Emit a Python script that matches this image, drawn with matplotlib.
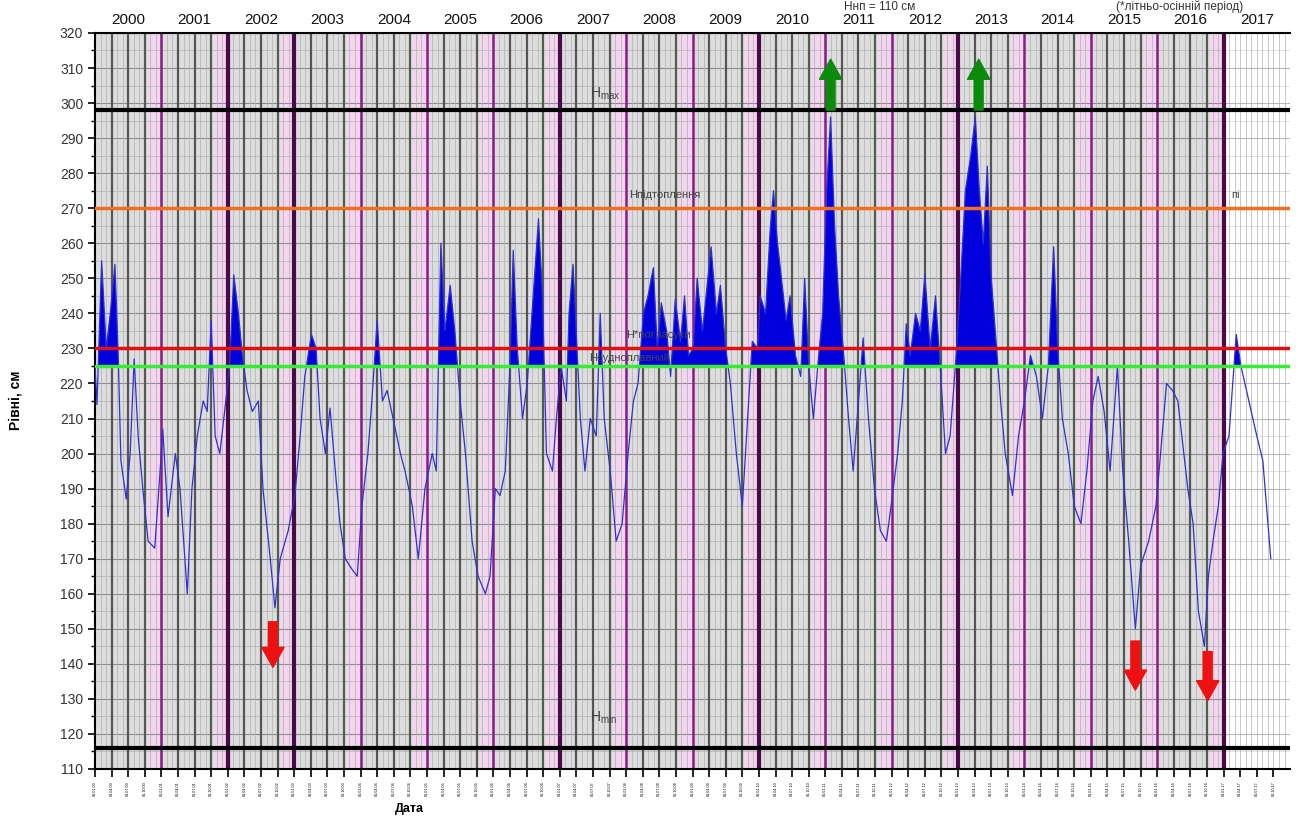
import numpy as np
import matplotlib.pyplot as plt

plt.rcParams['font.family'] = ['Liberation Sans', 'DejaVu Sans']

# water level series (fractional year, level in cm)
t = [2000.00, 2000.03, 2000.10, 2000.17, 2000.23, 2000.30, 2000.35, 2000.39, 2000.47, 2000.53,
     2000.59, 2000.65, 2000.72, 2000.80, 2000.90, 2000.98, 2001.02, 2001.10, 2001.21, 2001.28,
     2001.39, 2001.46, 2001.54, 2001.63, 2001.69, 2001.75, 2001.81, 2001.88, 2001.97, 2002.03,
     2002.09, 2002.16, 2002.22, 2002.29, 2002.37, 2002.46, 2002.53, 2002.64, 2002.71, 2002.79,
     2002.91, 2003.01, 2003.09, 2003.16, 2003.26, 2003.33, 2003.39, 2003.47, 2003.54, 2003.62,
     2003.69, 2003.77, 2003.87, 2003.95, 2004.02, 2004.11, 2004.17, 2004.25, 2004.33, 2004.40,
     2004.49, 2004.60, 2004.67, 2004.78, 2004.87, 2004.97, 2005.08, 2005.14, 2005.21, 2005.27,
     2005.35, 2005.42, 2005.50, 2005.58, 2005.68, 2005.77, 2005.88, 2005.95, 2006.03, 2006.10,
     2006.18, 2006.25, 2006.30, 2006.36, 2006.44, 2006.51, 2006.60, 2006.68, 2006.74, 2006.80,
     2006.89, 2006.95, 2007.02, 2007.10, 2007.14, 2007.20, 2007.26, 2007.31, 2007.38, 2007.46,
     2007.55, 2007.61, 2007.67, 2007.76, 2007.85, 2007.94, 2008.03, 2008.11, 2008.18, 2008.26,
     2008.33, 2008.41, 2008.47, 2008.53, 2008.61, 2008.67, 2008.74, 2008.82, 2008.88, 2008.94,
     2009.01, 2009.07, 2009.15, 2009.22, 2009.28, 2009.36, 2009.42, 2009.50, 2009.57, 2009.66,
     2009.75, 2009.83, 2009.90, 2009.98, 2010.02, 2010.10, 2010.17, 2010.22, 2010.28, 2010.34,
     2010.41, 2010.47, 2010.55, 2010.63, 2010.69, 2010.75, 2010.82, 2010.90, 2010.96, 2011.02,
     2011.08, 2011.14, 2011.20, 2011.27, 2011.35, 2011.42, 2011.50, 2011.57, 2011.65, 2011.74,
     2011.83, 2011.92, 2011.99, 2012.09, 2012.16, 2012.22, 2012.28, 2012.36, 2012.43, 2012.50,
     2012.58, 2012.66, 2012.73, 2012.81, 2012.88, 2012.96, 2013.04, 2013.11, 2013.19, 2013.26,
     2013.32, 2013.38, 2013.44, 2013.50, 2013.56, 2013.64, 2013.71, 2013.82, 2013.91, 2014.00,
     2014.09, 2014.18, 2014.27, 2014.36, 2014.44, 2014.50, 2014.57, 2014.66, 2014.75, 2014.85,
     2014.94, 2015.03, 2015.11, 2015.20, 2015.29, 2015.40, 2015.48, 2015.57, 2015.67, 2015.75,
     2015.87, 2015.98, 2016.05, 2016.14, 2016.23, 2016.31, 2016.40, 2016.46, 2016.54, 2016.62,
     2016.71, 2016.77, 2016.84, 2016.92, 2016.99, 2017.08, 2017.19, 2017.26, 2017.38, 2017.50,
     2017.59, 2017.71]
level = [225, 214, 255, 230, 240, 254, 228, 198, 187, 200,
         227, 205, 190, 175, 173, 195, 207, 182, 200, 190,
         160, 190, 205, 215, 212, 238, 205, 200, 215, 226,
         251, 240, 228, 218, 212, 215, 190, 170, 156, 170,
         178, 188, 205, 222, 234, 230, 210, 200, 213, 195,
         180, 170, 167, 165, 185, 200, 215, 238, 215, 218,
         210, 200, 195, 185, 170, 190, 200, 195, 260, 235,
         248, 235, 215, 200, 175, 165, 160, 165, 190, 188,
         195, 225, 258, 230, 210, 220, 245, 267, 245, 200,
         195, 210, 225, 215, 240, 254, 230, 210, 195, 210,
         205, 240, 210, 195, 175, 180, 200, 215, 220, 240,
         245, 253, 230, 243, 235, 222, 244, 232, 245, 228,
         230, 250, 235, 248, 259, 240, 248, 230, 220, 200,
         185, 210, 232, 230, 245, 240, 264, 275, 260, 250,
         238, 245, 228, 222, 250, 225, 210, 228, 240, 275,
         296, 265, 245, 230, 210, 195, 215, 233, 210, 190,
         178, 175, 185, 200, 215, 237, 228, 240, 235, 251,
         230, 245, 225, 200, 205, 225, 250, 275, 285, 296,
         275, 260, 282, 250, 235, 215, 200, 188, 205, 215,
         228, 222, 210, 225, 259, 230, 210, 200, 185, 180,
         195, 215, 222, 212, 195, 225, 195, 175, 150, 168,
         175, 185, 200, 220, 218, 215, 200, 190, 180, 155,
         145, 165, 175, 185, 200, 205, 234, 225, 215, 205,
         198, 170]

years = list(range(2000, 2018))
thick_years = [2002, 2003, 2007, 2010, 2013, 2017]

h_max, h_flood, h_drought, h_base, h_min = 298, 270, 230, 225, 116

up_x = [2011.08, 2013.31]
up_tail, up_tip = 298, 312.5
down_x = [2002.68, 2015.67, 2016.76]
down_tail = [152, 146.5, 143.5]
down_tip = [139, 132.5, 129.5]

t = np.array(t)
level = np.array(level)

fig = plt.figure(figsize=(12.96, 8.16), dpi=100)
ax = fig.add_axes([0.0733, 0.0576, 0.9221, 0.9020])
ax.set_xlim(2000, 2018)
ax.set_ylim(110, 320)

# background: grey for observed years, white for the current one
ax.axvspan(2000, 2017, color='#dddddd', zorder=0)
for yr in years[1:]:
    ax.axvspan(yr - 0.22, yr, color='#f2d6ee', zorder=0.5, lw=0)

# horizontal grid
for v in np.arange(110, 321, 5):
    major = v % 10 == 0
    ax.hlines(v, 2000, 2017, color='#8c8c8c' if major else '#b4b4b4', lw=0.8 if major else 0.5, zorder=1)
    ax.hlines(v, 2017, 2018, color='#b8b8b8' if major else '#d6d6d6', lw=0.8 if major else 0.5, zorder=1)

# monthly light lines, quarterly dark lines
for m in np.arange(2000, 2018, 1 / 12):
    ax.axvline(m, color='#b0b0b0', lw=0.5, zorder=1)
for yr in years[:-1]:
    for q, col in [(0.25, '#555555'), (0.5, '#555555'), (0.75, '#4d604d')]:
        ax.axvline(yr + q, color=col, lw=1.6, zorder=2)
for yr in years[1:]:
    if yr in thick_years:
        ax.axvline(yr, color='#4a0a4a', lw=3, zorder=2.5)
    else:
        ax.axvline(yr, color='#8a1a8a', lw=1.8, zorder=2.5)

# level series with fill above the base line
ax.fill_between(t, level, h_base, where=level > h_base, interpolate=True, color='#0000dd', lw=0, zorder=3)
ax.plot(t, level, color='#3030d0', lw=0.9, zorder=3.5)

# reference levels
ax.axhline(h_max, color='black', lw=3, zorder=4)
ax.axhline(h_flood, color='#f07020', lw=2.5, zorder=4)
ax.axhline(h_drought, color='#e01010', lw=2.5, zorder=4)
ax.axhline(h_base, color='#33ee33', lw=2.5, zorder=4)
ax.axhline(h_min, color='black', lw=3, zorder=4)

lab = dict(color='#444444', fontsize=8, zorder=5)
ax.text(2007.45, 301.5, 'H$_{\\mathregular{max}}$', color='#444444', fontsize=10, zorder=5)
ax.text(2008.05, 273, 'Нпідтоплення', **lab)
ax.text(2008.0, 233, 'Н*пог.засухи', **lab)
ax.text(2007.45, 226.5, 'Нсудноплавний', **lab)
ax.text(2007.45, 123.5, 'H$_{\\mathregular{min}}$', color='#444444', fontsize=10, zorder=5)
ax.text(2017.12, 273, 'пі', **lab)

# arrows
for x in up_x:
    ax.annotate('', xy=(x, up_tip), xytext=(x, up_tail), zorder=6,
                arrowprops=dict(arrowstyle='simple,head_length=0.9,head_width=1.0,tail_width=0.4',
                                color='#0b8a0b', mutation_scale=16, shrinkA=0, shrinkB=0))
for x, a, b in zip(down_x, down_tail, down_tip):
    ax.annotate('', xy=(x, b), xytext=(x, a), zorder=6,
                arrowprops=dict(arrowstyle='simple,head_length=0.9,head_width=1.0,tail_width=0.4',
                                color='#ee1111', mutation_scale=16, shrinkA=0, shrinkB=0))

# year labels above the plot
for yr in years:
    ax.text(yr + 0.5, 1.018, str(yr), transform=ax.get_xaxis_transform(),
            ha='center', va='center', fontsize=11, color='#111111')

# axes and ticks
ax.set_yticks(np.arange(110, 321, 10))
ax.set_yticks(np.arange(115, 320, 10), minor=True)
ax.tick_params(axis='y', which='major', labelsize=10, labelcolor='#333333', length=5, width=1.2)
ax.tick_params(axis='y', which='minor', length=3, width=1)
qticks = np.arange(2000, 2017.9, 0.25)
ax.set_xticks(qticks)
ax.set_xticklabels(['01.%02d.%02d' % (int(round((q % 1) * 12)) + 1, int(q) % 100) for q in qticks],
                   rotation=90)
ax.tick_params(axis='x', labelsize=2.7, length=6, width=1.2, pad=3)
ax.spines['right'].set_visible(False)
ax.spines['top'].set_linewidth(1.5)
ax.spines['bottom'].set_linewidth(1.5)
ax.spines['left'].set_linewidth(1.5)

fig.text(0.012, 0.509, 'Рівні, см', rotation=90, ha='center', va='center', fontsize=10, fontweight='bold')
fig.text(0.316, 0.008, 'Дата', ha='center', va='center', fontsize=9, fontweight='bold')
fig.text(0.679, 0.999, 'Hнп = 110 см', ha='center', va='top', fontsize=8.5, color='#333333')
fig.text(0.910, 0.999, '(*літньо-осінній період)', ha='center', va='top', fontsize=8.5, color='#333333')

fig.savefig('out.png', dpi=100)
